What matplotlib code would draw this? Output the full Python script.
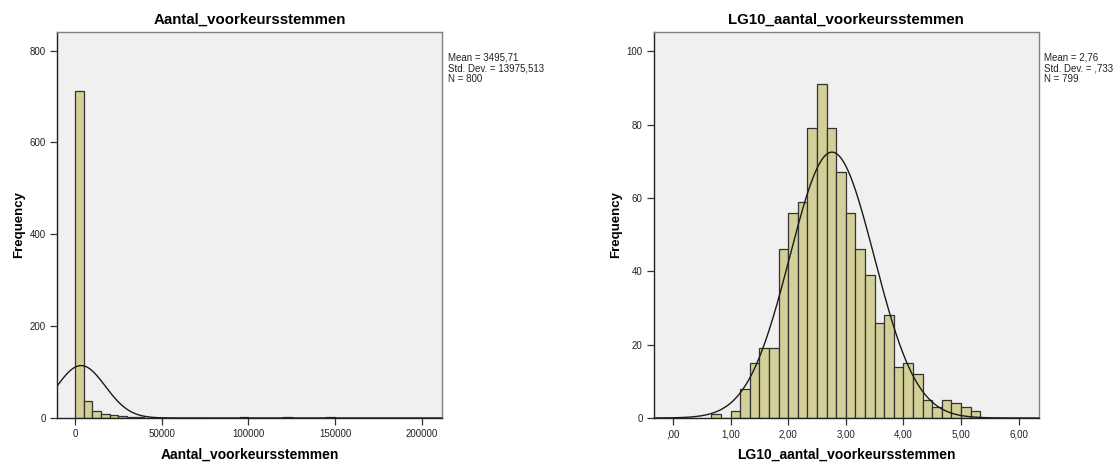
import numpy as np
import matplotlib
matplotlib.use("Agg")
import matplotlib.pyplot as plt

plt.rcParams['font.family'] = ['Liberation Sans', 'DejaVu Sans']

# left histogram: counts per 5000-wide bin starting at 0
raw_width = 5000
raw_counts = [713, 38, 15, 8, 6, 4, 2, 2, 1, 0, 1, 1, 0, 0, 1, 0, 0, 0, 0, 2,
              1, 0, 0, 0, 2, 0, 0, 0, 0, 2, 0, 0, 0, 1]
raw_mean, raw_sd, raw_n = 3495.71, 13975.513, 800
raw_stats = ["Mean = 3495,71", "Std. Dev. = 13975,513", "N = 800"]
raw_xticks = [0, 50000, 100000, 150000, 200000]
raw_yticks = [0, 200, 400, 600, 800]

# right histogram: counts per 1/6-wide bin starting at 2/3
log_start = 2 / 3
log_width = 1 / 6
log_counts = [1, 0, 2, 8, 15, 19, 19, 46, 56, 59, 79, 91, 79, 67, 56, 46, 39,
              26, 28, 14, 15, 12, 5, 3, 5, 4, 3, 2]
log_mean, log_sd, log_n = 2.76, 0.733, 799
log_stats = ["Mean = 2,76", "Std. Dev. = ,733", "N = 799"]
log_xticks = [0, 1, 2, 3, 4, 5, 6]
log_xlabels = [",00", "1,00", "2,00", "3,00", "4,00", "5,00", "6,00"]
log_yticks = [0, 20, 40, 60, 80, 100]

bar_color = "#d3cf98"
edge_color = "#333333"
bg_color = "#f0f0f0"

fig = plt.figure(figsize=(11.2, 4.63), dpi=100)
ax1 = fig.add_axes([0.0509, 0.0972, 0.3438, 0.8343])
ax2 = fig.add_axes([0.5836, 0.0972, 0.3438, 0.8343])


def draw_panel(ax, start, width, counts, mean, sd, n, xlim, ylim, title, stats):
    ax.set_facecolor(bg_color)
    lefts = start + width * np.arange(len(counts))
    ax.bar(lefts, counts, width=width, align="edge", color=bar_color,
           edgecolor=edge_color, linewidth=0.9, zorder=2)
    xs = np.linspace(xlim[0], xlim[1], 600)
    ys = n * width / (sd * np.sqrt(2 * np.pi)) * np.exp(-0.5 * ((xs - mean) / sd) ** 2)
    ax.plot(xs, ys, color="#1a1a1a", linewidth=1.0, zorder=3)
    ax.set_xlim(xlim)
    ax.set_ylim(ylim)
    ax.set_title(title, fontsize=10.8, fontweight="bold", pad=6)
    ax.set_xlabel(title, fontsize=10, fontweight="bold", labelpad=6)
    ax.set_ylabel("Frequency", fontsize=9.5, fontweight="bold", labelpad=3)
    ax.tick_params(axis="both", labelsize=7, length=5, width=0.9,
                   color="#333333", labelcolor="#222222", pad=3)
    for side in ["left", "bottom"]:
        ax.spines[side].set_color("#222222")
        ax.spines[side].set_linewidth(1.0)
    for side in ["top", "right"]:
        ax.spines[side].set_color("#808080")
        ax.spines[side].set_linewidth(1.0)
    ax.text(1.015, 0.945, "\n".join(stats), transform=ax.transAxes,
            fontsize=7, va="top", ha="left", color="#222222", linespacing=1.05)


draw_panel(ax1, 0, raw_width, raw_counts, raw_mean, raw_sd, raw_n,
           (-10400, 211700), (0, 841), "Aantal_voorkeursstemmen", raw_stats)
ax1.set_xticks(raw_xticks)
ax1.set_xticklabels([str(v) for v in raw_xticks])
ax1.set_yticks(raw_yticks)

draw_panel(ax2, log_start, log_width, log_counts, log_mean, log_sd, log_n,
           (-0.335, 6.347), (0, 105.3), "LG10_aantal_voorkeursstemmen", log_stats)
ax2.set_xticks(log_xticks)
ax2.set_xticklabels(log_xlabels)
ax2.set_yticks(log_yticks)

fig.savefig("out.png", dpi=100, facecolor="white")
